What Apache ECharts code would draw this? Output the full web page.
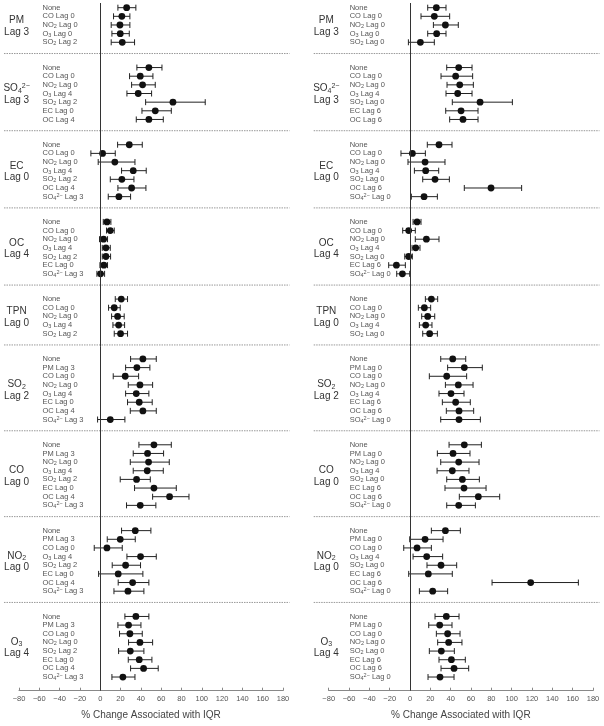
<!DOCTYPE html>
<html><head><meta charset="utf-8">
<script src="https://cdn.jsdelivr.net/npm/echarts@6/dist/echarts.min.js"></script>
<style>html,body{margin:0;padding:0;background:#fff}#c{width:604px;height:726px}</style>
</head><body><div id="c"></div>
<script>
const xTicks = [-80,-60,-40,-20,0,20,40,60,80,100,120,140,160,180];
const axisTitle = '% Change Associated with IQR';

// ---------- Left panel ----------
const leftGroups = ['PM\nLag 3','SO₄²⁻\nLag 3','EC\nLag 0','OC\nLag 4','TPN\nLag 0','SO₂\nLag 2','CO\nLag 0','NO₂\nLag 0','O₃\nLag 4'];
const leftLabels = [
  ['None','CO Lag 0','NO₂ Lag 0','O₃ Lag 0','SO₂ Lag 2'],
  ['None','CO Lag 0','NO₂ Lag 0','O₃ Lag 4','SO₂ Lag 2','EC Lag 0','OC Lag 4'],
  ['None','CO Lag 0','NO₂ Lag 0','O₃ Lag 4','SO₂ Lag 2','OC Lag 4','SO₄²⁻ Lag 3'],
  ['None','CO Lag 0','NO₂ Lag 0','O₃ Lag 4','SO₂ Lag 2','EC Lag 0','SO₄²⁻ Lag 3'],
  ['None','CO Lag 0','NO₂ Lag 0','O₃ Lag 4','SO₂ Lag 2'],
  ['None','PM Lag 3','CO Lag 0','NO₂ Lag 0','O₃ Lag 4','EC Lag 0','OC Lag 4','SO₄²⁻ Lag 3'],
  ['None','PM Lag 3','NO₂ Lag 0','O₃ Lag 4','SO₂ Lag 2','EC Lag 0','OC Lag 4','SO₄²⁻ Lag 3'],
  ['None','PM Lag 3','CO Lag 0','O₃ Lag 4','SO₂ Lag 2','EC Lag 0','OC Lag 4','SO₄²⁻ Lag 3'],
  ['None','PM Lag 3','CO Lag 0','NO₂ Lag 0','SO₂ Lag 2','EC Lag 0','OC Lag 4','SO₄²⁻ Lag 3']
];
const leftEst = [
  [26,21.3,19.4,19.7,21.7],
  [47.9,39.4,41.7,37.4,71.6,54.2,47.9],
  [28.6,2.3,14.4,32.5,21.3,30.9,18.4],
  [6.6,9.9,3.3,5.6,5.6,3.6,0.3],
  [20.7,13.8,17.1,18.1,20],
  [42,36.1,24.6,39.1,35.5,38.4,42,9.9],
  [52.9,46.6,47.6,46.3,35.8,52.9,68.3,39.4],
  [34.5,19.7,6.6,39.7,25,17.7,31.9,27.3],
  [35.1,27.9,29.2,39.1,29.6,38.4,42.7,22.3]
];
const leftLow = [
  [17.4,13.1,10.8,11.5,10.8],
  [36.1,28.9,30.9,26.3,44.7,41.1,35.5],
  [17.1,-9.2,-2,21,9.9,17.4,7.9],
  [3,6.2,-0.7,2,2,-0.3,-3.3],
  [14.8,8.2,11.2,12.5,13.8],
  [29.9,25,12.8,27.6,25,26.9,29.6,-2.6],
  [38.1,32.5,29.6,32.5,19.7,33.8,51.6,25.9],
  [21,6.9,-5.9,26.3,11.8,-1.6,17.7,13.5],
  [24.3,17.4,19,27.9,18.1,27.6,29.9,11.5]
];
const leftHigh = [
  [35.1,29.2,29.2,28.6,33.8],
  [60.8,51.9,54.2,50.6,103.4,70,62.1],
  [41.4,14.8,34.2,45.3,33.2,45,29.9],
  [10.5,13.8,7.2,9.9,10.2,7.2,4.3],
  [26.9,19.7,23.6,24,26.9],
  [55.2,48.9,37.8,51.6,47.9,51.2,55.2,24.3],
  [70,62.4,68,62.1,49.3,74.9,87.4,54.8],
  [49.9,34.5,21.7,55.2,39.7,42,47.9,43],
  [47.9,40.1,41.4,51.6,43,50.9,57.1,34.2]
];

// ---------- Right panel ----------
const rightGroups = ['PM\nLag 3','SO₄²⁻\nLag 3','EC\nLag 0','OC\nLag 4','TPN\nLag 0','SO₂\nLag 2','CO\nLag 0','NO₂\nLag 0','O₃\nLag 4'];
const rightLabels = [
  ['None','CO Lag 0','NO₂ Lag 0','O₃ Lag 0','SO₂ Lag 0'],
  ['None','CO Lag 0','NO₂ Lag 0','O₃ Lag 4','SO₂ Lag 0','EC Lag 6','OC Lag 6'],
  ['None','CO Lag 0','NO₂ Lag 0','O₃ Lag 4','SO₂ Lag 0','OC Lag 6','SO₄²⁻ Lag 0'],
  ['None','CO Lag 0','NO₂ Lag 0','O₃ Lag 4','SO₂ Lag 0','EC Lag 6','SO₄²⁻ Lag 0'],
  ['None','CO Lag 0','NO₂ Lag 0','O₃ Lag 4','SO₂ Lag 0'],
  ['None','PM Lag 0','CO Lag 0','NO₂ Lag 0','O₃ Lag 4','EC Lag 6','OC Lag 6','SO₄²⁻ Lag 0'],
  ['None','PM Lag 0','NO₂ Lag 0','O₃ Lag 4','SO₂ Lag 0','EC Lag 6','OC Lag 6','SO₄²⁻ Lag 0'],
  ['None','PM Lag 0','CO Lag 0','O₃ Lag 4','SO₂ Lag 0','EC Lag 6','OC Lag 6','SO₄²⁻ Lag 0'],
  ['None','PM Lag 0','CO Lag 0','NO₂ Lag 0','SO₂ Lag 0','EC Lag 6','OC Lag 6','SO₄²⁻ Lag 0']
];
const rightEst = [
  [25.9,23.9,34.8,26.2,10.2],
  [47.9,44.9,48.9,46.9,68.9,50.2,52.1],
  [28.5,2.3,14.8,15.4,24.6,79.7,13.8],
  [6.9,-1.3,16.1,5.6,-1.3,-13.4,-7.5],
  [21,14.1,17.4,15.4,19.3],
  [42,53.4,36.1,47.5,40.3,44.9,48.2,48.2],
  [53.4,42.3,47.9,41.6,51.5,53.1,67.2,47.9],
  [34.8,14.8,6.9,16.4,30.5,18,118.7,22.3],
  [35.7,29.2,37,38,30.8,40.7,43.3,29.5]
];
const rightLow = [
  [17.4,10.8,23,17.4,-1.6],
  [36.1,30.5,36.4,35.4,41.6,35.1,39],
  [17,-8.9,-2,4.3,12.5,53.4,1.3],
  [3,-7.2,5.2,2,-5.2,-21,-13.1],
  [15.1,8.2,11.5,9.2,12.5],
  [30.2,37,19,34.8,28.5,31.8,35.7,30.2],
  [38.4,26.9,30.2,26.6,36.1,34.4,48.5,36.1],
  [21,-0.3,-6.2,3,16.7,-1.3,80.7,9.2],
  [24.6,18.4,25.9,27.2,19,28.5,30.5,17.7]
];
const rightHigh = [
  [35.4,39,47.5,35.4,23.9],
  [61,61.6,62.3,61,100.7,66.9,66.9],
  [41.3,15.1,34.4,28.2,38.7,109.8,26.9],
  [10.8,5.2,28.5,9.8,2.3,-4.6,-0.3],
  [27.2,20.3,24.3,21.6,26.9],
  [54.8,71.1,55.7,62,53.1,59.3,62.6,69.2],
  [70.2,59,67.9,58,68.2,74.8,88.2,64.3],
  [49.5,32.5,21,32.1,45.9,41.6,165.6,37],
  [48.2,41.3,49.2,51.1,43.6,54.4,57.7,43.3]
];

// ---------- layout / style constants ----------
const GAP_EXTRA = 1.92;   // extra row units between groups
const SEP_AFTER = 1.3;    // separator distance after last row of a group
const FONT = '"Liberation Sans", Arial, Helvetica, sans-serif';
const RICH_ROW = {
  sub: {fontSize: 5.5, lineHeight: 5, verticalAlign: 'bottom', fontFamily: FONT, fill: '#555'},
  sup: {fontSize: 5.5, lineHeight: 5, verticalAlign: 'top', fontFamily: FONT, fill: '#555'}
};
const RICH_GRP = {
  sub: {fontSize: 7, lineHeight: 6, verticalAlign: 'bottom', fontFamily: FONT, fill: '#333'},
  sup: {fontSize: 7, lineHeight: 6, verticalAlign: 'top', fontFamily: FONT, fill: '#333'}
};
const subMap = {'₂':'2','₃':'3','₄':'4'};
function toRich(s) {
  return s.replace(/([₂₃₄])(²⁻)?/g, (m, sub, sup) => '{sub|' + subMap[sub] + '}' + (sup ? '{sup|2−}' : ''));
}

function buildPanel(groups, labels, est, low, high) {
  const rows = [], grp = [];
  let r = 0;
  labels.forEach((lst, g) => {
    const first = r + g * GAP_EXTRA;
    lst.forEach((lab, i) => {
      rows.push([est[g][i], low[g][i], high[g][i], r + g * GAP_EXTRA, lab]);
      r++;
    });
    const last = (r - 1) + g * GAP_EXTRA;
    grp.push([(first + last) / 2, g < labels.length - 1 ? last + SEP_AFTER : null, groups[g]]);
  });
  return {rows, grp, yMax: rows[rows.length - 1][3] + 1.58};
}

const L = buildPanel(leftGroups, leftLabels, leftEst, leftLow, leftHigh);
const R = buildPanel(rightGroups, rightLabels, rightEst, rightLow, rightHigh);

function rowSeries(panel, idx, labelOffset) {
  return {
    type: 'custom', xAxisIndex: idx, yAxisIndex: idx, clip: false,
    data: panel.rows,
    encode: {x: [0, 1, 2], y: 3},
    renderItem: (params, api) => {
      const y = api.value(3);
      const pE = api.coord([api.value(0), y]);
      const pL = api.coord([api.value(1), y]);
      const pH = api.coord([api.value(2), y]);
      const x0 = api.coord([xTicks[0], y])[0];
      const lab = panel.rows[params.dataIndex][4];
      const st = {stroke: '#222', lineWidth: 1};
      return {type: 'group', children: [
        {type: 'line', shape: {x1: pL[0], y1: pL[1], x2: pH[0], y2: pH[1]}, style: st},
        {type: 'line', shape: {x1: pL[0], y1: pL[1] - 3, x2: pL[0], y2: pL[1] + 3}, style: st},
        {type: 'line', shape: {x1: pH[0], y1: pH[1] - 3, x2: pH[0], y2: pH[1] + 3}, style: st},
        {type: 'circle', shape: {cx: pE[0], cy: pE[1], r: 3.4}, style: {fill: '#111'}},
        {type: 'text', x: x0 + labelOffset, y: pE[1],
          style: {text: toRich(lab), rich: RICH_ROW, fill: '#555', fontSize: 7.5, fontFamily: FONT,
                  align: 'left', verticalAlign: 'middle', lineHeight: 9}}
      ]};
    },
    markLine: {
      silent: true, symbol: ['none', 'none'], label: {show: false},
      lineStyle: {color: '#333', width: 1, type: 'solid'},
      data: [{xAxis: 0}]
    },
    z: 3
  };
}

function groupSeries(panel, idx) {
  return {
    type: 'custom', xAxisIndex: idx, yAxisIndex: idx, clip: false,
    data: panel.grp.map(g => [g[0], g[1] == null ? g[0] : g[1]]),
    encode: {y: 0},
    renderItem: (params, api) => {
      const g = panel.grp[params.dataIndex];
      const c = api.coord([xTicks[0], g[0]]);
      const xEnd = api.coord([xTicks[xTicks.length - 1], g[0]])[0];
      const children = [
        {type: 'text', x: c[0] - 2.4, y: c[1] + 1,
          style: {text: toRich(g[2]), rich: RICH_GRP, fill: '#333', fontSize: 10, fontFamily: FONT,
                  align: 'center', verticalAlign: 'middle', lineHeight: 11.6}}
      ];
      if (g[1] != null) {
        const sy = api.coord([xTicks[0], g[1]])[1];
        children.push({type: 'line', shape: {x1: c[0] - 15, y1: sy, x2: xEnd + 6.5, y2: sy},
          style: {stroke: '#999', lineWidth: 1, lineDash: [1.5, 1]}});
      }
      return {type: 'group', children};
    },
    z: 2
  };
}

function xAxisCfg(idx) {
  return {
    type: 'value', gridIndex: idx, position: 'bottom', min: xTicks[0], max: xTicks[xTicks.length - 1],
    interval: xTicks[1] - xTicks[0],
    axisLine: {show: true, onZero: false, lineStyle: {color: '#888', width: 1}},
    axisTick: {show: true, inside: true, length: 3, lineStyle: {color: '#888'}},
    axisLabel: {fontSize: 7.5, color: '#555', margin: 4, fontFamily: FONT,
                formatter: v => String(v).replace('-', '−')},
    splitLine: {show: false},
    name: axisTitle, nameLocation: 'middle', nameGap: 20,
    nameTextStyle: {fontSize: 10, color: '#444', fontFamily: FONT}
  };
}
function yAxisCfg(idx, panel) {
  return {type: 'value', gridIndex: idx, inverse: true, min: -0.54, max: panel.yMax, show: false};
}

const chart = echarts.init(document.getElementById('c'), null, {renderer: 'canvas'});
chart.setOption({
  animation: false,
  backgroundColor: '#fff',
  grid: [
    {left: 19, width: 264, top: 3, bottom: 35.3},
    {left: 328.7, width: 264.3, top: 3, bottom: 35.3}
  ],
  xAxis: [xAxisCfg(0), xAxisCfg(1)],
  yAxis: [yAxisCfg(0, L), yAxisCfg(1, R)],
  series: [
    groupSeries(L, 0), rowSeries(L, 0, 23.5),
    groupSeries(R, 1), rowSeries(R, 1, 21)
  ]
});
</script>
</body></html>
